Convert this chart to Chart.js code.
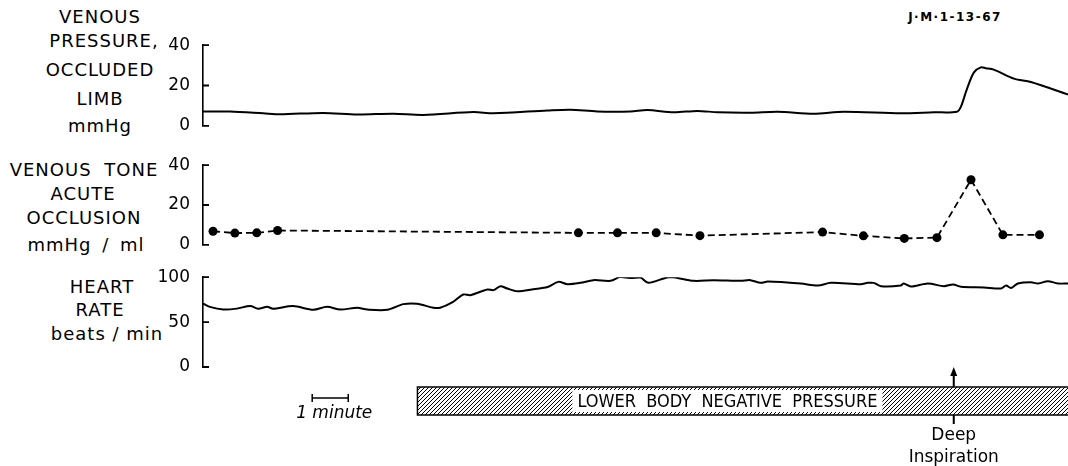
<!DOCTYPE html>
<html>
<head>
<title>Venous pressure, venous tone and heart rate during LBNP</title>
<script src="https://cdn.jsdelivr.net/npm/chart.js"></script>
<style>
    body { margin: 0; background: #fff; width: 1068px; height: 466px; overflow: hidden; position: relative;
           font-family: "DejaVu Sans", sans-serif; color: #000; }
    canvas { position: absolute; }
    .lbl { position: absolute; transform: translate(-50%, -50%); white-space: nowrap;
           font-size: 18px; line-height: 18px; letter-spacing: 1px; }
    .sm { font-size: 12px; line-height: 12px; letter-spacing: 1.5px; font-weight: bold; }
</style>
</head>
<body>
    <div class="lbl sm" style="left:955px; top:17px;">J·M·1-13-67</div>

    <div class="lbl" style="left:100px; top:17px;">VENOUS</div>
    <div class="lbl" style="left:104px; top:41px;">PRESSURE,</div>
    <div class="lbl" style="left:100px; top:70px;">OCCLUDED</div>
    <div class="lbl" style="left:100px; top:99px;">LIMB</div>
    <div class="lbl" style="left:100px; top:126px;">mmHg</div>

    <div class="lbl" style="left:84px; top:170px; word-spacing:6px;">VENOUS TONE</div>
    <div class="lbl" style="left:83px; top:194px;">ACUTE</div>
    <div class="lbl" style="left:84px; top:218px;">OCCLUSION</div>
    <div class="lbl" style="left:86px; top:245px; word-spacing:4px;">mmHg / ml</div>

    <div class="lbl" style="left:102px; top:287px;">HEART</div>
    <div class="lbl" style="left:100px; top:310px;">RATE</div>
    <div class="lbl" style="left:107px; top:334px;">beats / min</div>

    <canvas id="pressureChart" width="918" height="111" style="left:150px; top:30px;"></canvas>
    <canvas id="toneChart" width="918" height="110" style="left:150px; top:150px;"></canvas>
    <canvas id="rateChart" width="918" height="204" style="left:150px; top:262px;"></canvas>

<script>
    // time axis in minutes from start of record
    const pressureMin = [0, 0.75, 1.67, 2.14, 3.33, 4.28, 5.28, 6.11, 7.5, 8.06, 9.56, 10.19, 10.94, 11.86,
        12.33, 13.06, 13.72, 14.28, 15.19, 15.94, 16.94, 17.78, 19.36, 20.28, 20.92, 21.03, 21.19, 21.39,
        21.58, 21.72, 21.94, 22.5, 22.97, 24];
    const pressureVal = [7.1, 7.1, 6.2, 5.7, 6.4, 5.6, 6.0, 5.4, 6.8, 6.2, 7.6, 8.0, 7.1, 7.1,
        7.8, 6.7, 7.4, 6.7, 6.5, 7.0, 6.0, 7.0, 6.2, 6.7, 7.0, 9.5, 18, 26.5,
        29, 28.6, 27.9, 23.4, 21.7, 15.5];

    const toneMin = [0.28, 0.89, 1.5, 2.08, 10.47, 11.56, 12.64, 13.86, 17.28, 18.42, 19.56, 20.47, 21.42, 22.31, 23.33];
    const toneVal = [6.8, 5.9, 6.0, 7.2, 6.0, 6.0, 6.0, 4.6, 6.4, 4.5, 3.2, 3.6, 32.7, 5.0, 5.0];

    const rateMin = [0, 0.19, 0.56, 0.94, 1.31, 1.53, 1.78, 1.94, 2.5, 3.06, 3.44, 3.81, 4.28, 4.56, 5.11,
        5.56, 5.94, 6.39, 6.58, 6.94, 7.22, 7.42, 7.89, 8.06, 8.25, 8.44, 8.72, 9.17, 9.56, 9.86, 10.11,
        10.47, 10.83, 11.31, 11.58, 11.86, 12.14, 12.36, 12.97, 13.61, 14.17, 14.92, 15.19, 15.47, 15.67,
        16.58, 17.06, 17.42, 18.25, 18.44, 18.61, 18.81, 19.36, 19.44, 19.64, 20.11, 20.56, 20.81, 21.03,
        21.67, 22.14, 22.28, 22.42, 22.61, 22.97, 23.17, 23.44, 23.72, 24];
    const rateVal = [70.7, 67, 64, 65, 68, 65, 67, 65, 67.8, 63.7, 67, 64, 66, 64, 63.7,
        70, 70.4, 66, 66, 72.6, 80.7, 80, 86.3, 85.6, 90, 87.4, 84.4, 86.7, 89, 94.8, 92.2,
        93.7, 96.7, 96, 100.4, 99, 99.6, 93.7, 100.3, 96, 96.7, 96, 96.7, 93.7, 95.2,
        93, 90.7, 93.7, 92.2, 93.7, 93.7, 90, 90.7, 93, 89.6, 93, 90, 91.9, 89.3,
        88.5, 87.4, 90.7, 88, 93, 94.4, 93, 95.6, 93, 93];

    const pressureTicks = [0, 20, 40];
    const toneTicks = [0, 20, 40];
    const rateTicks = [0, 50, 100];

    const lbnpStart = 5.95, lbnpEnd = 24;
    const lbnpLabel = 'LOWER  BODY  NEGATIVE  PRESSURE';
    const lbnpLabelAt = 14.55;
    const deepInspiration = 20.83;
    const oneMinuteBarAt = 3.03;

    const tickFont = { family: 'DejaVu Sans', size: 17 };

    function xy(xs, ys) {
        return xs.map((x, i) => ({ x: x, y: ys[i] }));
    }

    function yAxis(max, ticks) {
        return {
            min: 0, max: max,
            afterBuildTicks: s => { s.ticks = ticks.map(v => ({ value: v })); },
            afterFit: s => { s.width = 53; },
            ticks: { color: '#000', font: tickFont, padding: 5 },
            grid: { display: false },
            border: { display: true, color: '#000', width: 1.6 }
        };
    }

    // tick marks point into the plot, as on the recorder paper
    const innerTicks = {
        id: 'innerTicks',
        afterDatasetsDraw(chart) {
            const y = chart.scales.y, ctx = chart.ctx;
            const x0 = chart.chartArea.left;
            ctx.save();
            ctx.strokeStyle = '#000';
            ctx.lineWidth = 1.8;
            ctx.beginPath();
            y.ticks.forEach(t => {
                const py = y.getPixelForValue(t.value);
                ctx.moveTo(x0 - 1, py);
                ctx.lineTo(x0 + 6, py);
            });
            ctx.stroke();
            ctx.restore();
        }
    };

    function options(max, ticks, padding) {
        return {
            responsive: false,
            animation: false,
            layout: { padding: padding },
            plugins: { legend: { display: false }, tooltip: { enabled: false } },
            scales: {
                x: { type: 'linear', min: 0, max: 24, display: false },
                y: yAxis(max, ticks)
            }
        };
    }

    function hatch(ctx) {
        const c = document.createElement('canvas');
        c.width = 4; c.height = 4;
        const g = c.getContext('2d');
        g.strokeStyle = '#000';
        g.lineWidth = 1;
        g.beginPath();
        g.moveTo(0, 4); g.lineTo(4, 0);
        g.moveTo(-1, 1); g.lineTo(1, -1);
        g.moveTo(3, 5); g.lineTo(5, 3);
        g.stroke();
        return ctx.createPattern(c, 'repeat');
    }

    // LBNP bar, 1 minute scale bar and the deep inspiration marker, all placed from the x scale
    const bottomMarks = {
        id: 'bottomMarks',
        afterDraw(chart) {
            const ctx = chart.ctx, x = chart.scales.x;
            const base = chart.chartArea.bottom;
            const top = base + 20, h = 28;
            const x0 = x.getPixelForValue(lbnpStart), x1 = x.getPixelForValue(lbnpEnd);
            ctx.save();

            ctx.fillStyle = hatch(ctx);
            ctx.fillRect(x0, top, x1 - x0, h);
            ctx.strokeStyle = '#000';
            ctx.lineWidth = 1.5;
            ctx.strokeRect(x0, top, x1 - x0 + 2, h);

            ctx.font = '18px "Liberation Sans Narrow", "DejaVu Sans Condensed", sans-serif';
            const tw = ctx.measureText(lbnpLabel).width;
            const cx = x.getPixelForValue(lbnpLabelAt);
            ctx.fillStyle = '#fff';
            ctx.fillRect(cx - tw / 2 - 5, top + 3, tw + 10, h - 6);
            ctx.fillStyle = '#000';
            ctx.textAlign = 'center';
            ctx.textBaseline = 'middle';
            ctx.fillText(lbnpLabel, cx, top + h / 2 + 1);

            // deep inspiration arrow
            const dx = x.getPixelForValue(deepInspiration);
            ctx.lineWidth = 2;
            ctx.beginPath();
            ctx.moveTo(dx, top); ctx.lineTo(dx, base + 6);
            ctx.moveTo(dx, top + h); ctx.lineTo(dx, top + h + 9);
            ctx.stroke();
            ctx.beginPath();
            ctx.moveTo(dx, base); ctx.lineTo(dx - 3.5, base + 9); ctx.lineTo(dx + 3.5, base + 9);
            ctx.closePath();
            ctx.fill();
            ctx.font = '17px "DejaVu Sans", sans-serif';
            ctx.fillText('Deep', dx, top + h + 21);
            ctx.fillText('Inspiration', dx, top + h + 43);

            // one minute scale bar
            const s0 = x.getPixelForValue(oneMinuteBarAt), s1 = x.getPixelForValue(oneMinuteBarAt + 1);
            const sy = base + 31;
            ctx.lineWidth = 1.5;
            ctx.beginPath();
            ctx.moveTo(s0, sy); ctx.lineTo(s1, sy);
            ctx.moveTo(s0, sy - 4); ctx.lineTo(s0, sy + 4);
            ctx.moveTo(s1, sy - 4); ctx.lineTo(s1, sy + 4);
            ctx.stroke();
            ctx.font = 'italic 17px "DejaVu Sans", sans-serif';
            ctx.fillText('1 minute', (s0 + s1) / 2 + 4, sy + 16);

            ctx.restore();
        }
    };

    new Chart(document.getElementById('pressureChart').getContext('2d'), {
        type: 'line',
        data: {
            datasets: [{
                data: xy(pressureMin, pressureVal),
                borderColor: '#000',
                borderWidth: 2,
                pointRadius: 0,
                tension: 0.3
            }]
        },
        options: options(40, pressureTicks, { top: 15, bottom: 10, right: 0 }),
        plugins: [innerTicks]
    });

    new Chart(document.getElementById('toneChart').getContext('2d'), {
        type: 'line',
        data: {
            datasets: [{
                data: xy(toneMin, toneVal),
                borderColor: '#000',
                borderWidth: 1.8,
                borderDash: [7, 4],
                pointRadius: 4.5,
                pointBackgroundColor: '#000',
                pointBorderWidth: 0,
                tension: 0
            }]
        },
        options: options(40, toneTicks, { top: 12, bottom: 10, right: 0 }),
        plugins: [innerTicks]
    });

    new Chart(document.getElementById('rateChart').getContext('2d'), {
        type: 'line',
        data: {
            datasets: [{
                data: xy(rateMin, rateVal),
                borderColor: '#000',
                borderWidth: 2,
                pointRadius: 0,
                tension: 0.3
            }]
        },
        options: options(100, rateTicks, { top: 15, bottom: 99, right: 0 }),
        plugins: [innerTicks, bottomMarks]
    });
</script>
</body>
</html>
